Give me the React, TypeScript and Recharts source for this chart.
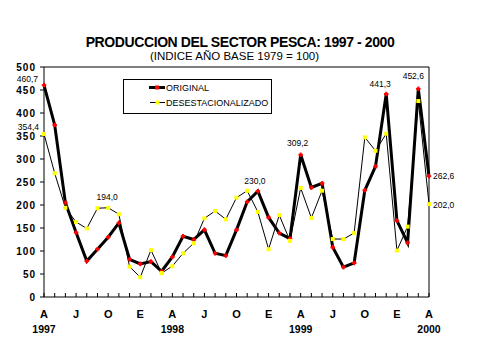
import React from 'react';
import { LineChart, Line, XAxis, YAxis, ReferenceLine } from 'recharts';

const periods = [
  '1997-04', '1997-05', '1997-06', '1997-07', '1997-08', '1997-09', '1997-10', '1997-11', '1997-12',
  '1998-01', '1998-02', '1998-03', '1998-04', '1998-05', '1998-06', '1998-07', '1998-08', '1998-09',
  '1998-10', '1998-11', '1998-12', '1999-01', '1999-02', '1999-03', '1999-04', '1999-05', '1999-06',
  '1999-07', '1999-08', '1999-09', '1999-10', '1999-11', '1999-12', '2000-01', '2000-02', '2000-03',
  '2000-04',
];

const original = [
  460.7, 374, 205, 140, 78, 104, 130, 161, 82, 72, 77, 56, 87, 132, 125, 146, 95, 90, 146, 207,
  230.0, 173, 139, 127, 309.2, 238, 247, 108, 65, 74, 232, 284, 441.3, 166, 118, 452.6, 262.6,
];

const desestacionalizado = [
  354.4, 269, 194, 163, 149, 193, 194.0, 180, 66, 43, 102, 52, 67, 95, 117, 171, 187, 169, 216, 231,
  185, 104, 178, 122, 237, 172, 231, 126, 126, 139, 347, 318, 355, 101, 153, 426, 202.0,
];

// initials shown on the axis, by month number
const monthInitials: Record<string, string> = { '04': 'A', '07': 'J', '10': 'O', '01': 'E' };

const yTicks = [0, 50, 100, 150, 200, 250, 300, 350, 400, 450, 500];

const data = periods.map((p, i) => ({
  periodo: p,
  original: original[i],
  desest: desestacionalizado[i],
}));

const FONT = '"Liberation Sans", Arial, sans-serif';

const fmt = (v: number) => v.toFixed(1).replace('.', ',');

type Place = { dx: number; dy: number; anchor: 'start' | 'middle' | 'end' };

const origPlaces: Record<number, Place> = {
  0: { dx: -6, dy: -3, anchor: 'end' },
  20: { dx: -3, dy: -7, anchor: 'middle' },
  24: { dx: -3, dy: -9, anchor: 'middle' },
  32: { dx: -6, dy: -7, anchor: 'middle' },
  35: { dx: -5, dy: -10, anchor: 'middle' },
  36: { dx: 4, dy: 3, anchor: 'start' },
};

const desPlaces: Record<number, Place> = {
  0: { dx: -5, dy: -4, anchor: 'end' },
  6: { dx: -1, dy: -8, anchor: 'middle' },
  36: { dx: 4, dy: 4, anchor: 'start' },
};

const makeLabel = (places: Record<number, Place>) => (props: any) => {
  const p = places[props.index];
  if (!p) return <g />;
  return (
    <text
      x={props.x + p.dx}
      y={props.y + p.dy}
      textAnchor={p.anchor}
      fontSize={8.5}
      fontFamily={FONT}
      fill="#000"
    >
      {fmt(Number(props.value))}
    </text>
  );
};

const RedDot = (props: any) => {
  const { cx, cy } = props;
  if (cx == null || cy == null) return <g />;
  return (
    <g>
      <rect x={cx - 2.25} y={cy - 1} width={4.5} height={2} fill="#ff0000" />
      <rect x={cx - 1} y={cy - 2.25} width={2} height={4.5} fill="#ff0000" />
    </g>
  );
};

const YellowDot = (props: any) => {
  const { cx, cy } = props;
  if (cx == null || cy == null) return <g />;
  return <rect x={cx - 2} y={cy - 2} width={4} height={4} fill="#ffff00" />;
};

const XTick = (props: any) => {
  const { x, y, payload } = props;
  const [year, month] = String(payload.value).split('-');
  const initial = monthInitials[month];
  return (
    <g>
      <line x1={x} x2={x} y1={y} y2={y - 4} stroke="#000" />
      {initial && (
        <text x={x} y={y + 21} textAnchor="middle" fontSize={11} fontWeight="bold" fontFamily={FONT} fill="#000">
          {initial}
        </text>
      )}
      {month === '04' && (
        <text x={x} y={y + 36} textAnchor="middle" fontSize={10.5} fontWeight="bold" fontFamily={FONT} fill="#000">
          {year}
        </text>
      )}
    </g>
  );
};

const LegendBox = () => (
  <svg width={150} height={36} style={{ position: 'absolute', left: 123, top: 79 }}>
    <rect x={0.5} y={0.5} width={148} height={34} fill="#fff" stroke="#000" />
    <line x1={26} x2={42} y1={8.5} y2={8.5} stroke="#000" strokeWidth={3} />
    <rect x={32} y={6.5} width={4} height={4} fill="#ff0000" />
    <line x1={27} x2={42} y1={23.5} y2={23.5} stroke="#000" strokeWidth={1} />
    <rect x={32.5} y={21.5} width={4} height={4} fill="#ffff00" />
    <text x={43} y={12} fontSize={9} fontFamily={FONT} fill="#000">ORIGINAL</text>
    <text x={43} y={27} fontSize={9} fontFamily={FONT} fill="#000">DESESTACIONALIZADO</text>
  </svg>
);

export default function App() {
  return (
    <div style={{ position: 'absolute', left: 0, top: 0, width: 479, height: 359, background: '#fff' }}>
      <svg width={479} height={70} style={{ position: 'absolute', left: 0, top: 0 }}>
        <text x={240} y={46.5} textAnchor="middle" fontSize={14} fontWeight="bold" letterSpacing={-0.4} fontFamily={FONT} fill="#000">
          PRODUCCION DEL SECTOR PESCA: 1997 - 2000
        </text>
        <text x={234.5} y={60} textAnchor="middle" fontSize={11.5} fontFamily={FONT} fill="#000">
          (INDICE AÑO BASE 1979 = 100)
        </text>
      </svg>
      <div style={{ position: 'absolute', left: 0, top: 0 }}>
        <LineChart width={479} height={359} data={data} margin={{ top: 67, right: 50, bottom: 32, left: 0 }}>
          <XAxis
            dataKey="periodo"
            interval={0}
            height={30}
            tickSize={0}
            tickMargin={0}
            tickLine={false}
            axisLine={{ stroke: '#000' }}
            tick={<XTick />}
          />
          <YAxis
            domain={[0, 500]}
            ticks={yTicks}
            width={44}
            tickSize={4}
            tickMargin={4}
            axisLine={{ stroke: '#000' }}
            tickLine={{ stroke: '#000' }}
            tick={{ fill: '#000', fontSize: 10, fontWeight: 'bold', fontFamily: FONT, letterSpacing: 1 }}
          />
          <ReferenceLine y={500} stroke="#000" />
          <ReferenceLine x="2000-04" stroke="#000" />
          <Line
            dataKey="original"
            stroke="#000"
            strokeWidth={3}
            dot={<RedDot />}
            label={makeLabel(origPlaces)}
            isAnimationActive={false}
          />
          <Line
            dataKey="desest"
            stroke="#000"
            strokeWidth={1}
            dot={<YellowDot />}
            label={makeLabel(desPlaces)}
            isAnimationActive={false}
          />
        </LineChart>
      </div>
      <LegendBox />
    </div>
  );
}
